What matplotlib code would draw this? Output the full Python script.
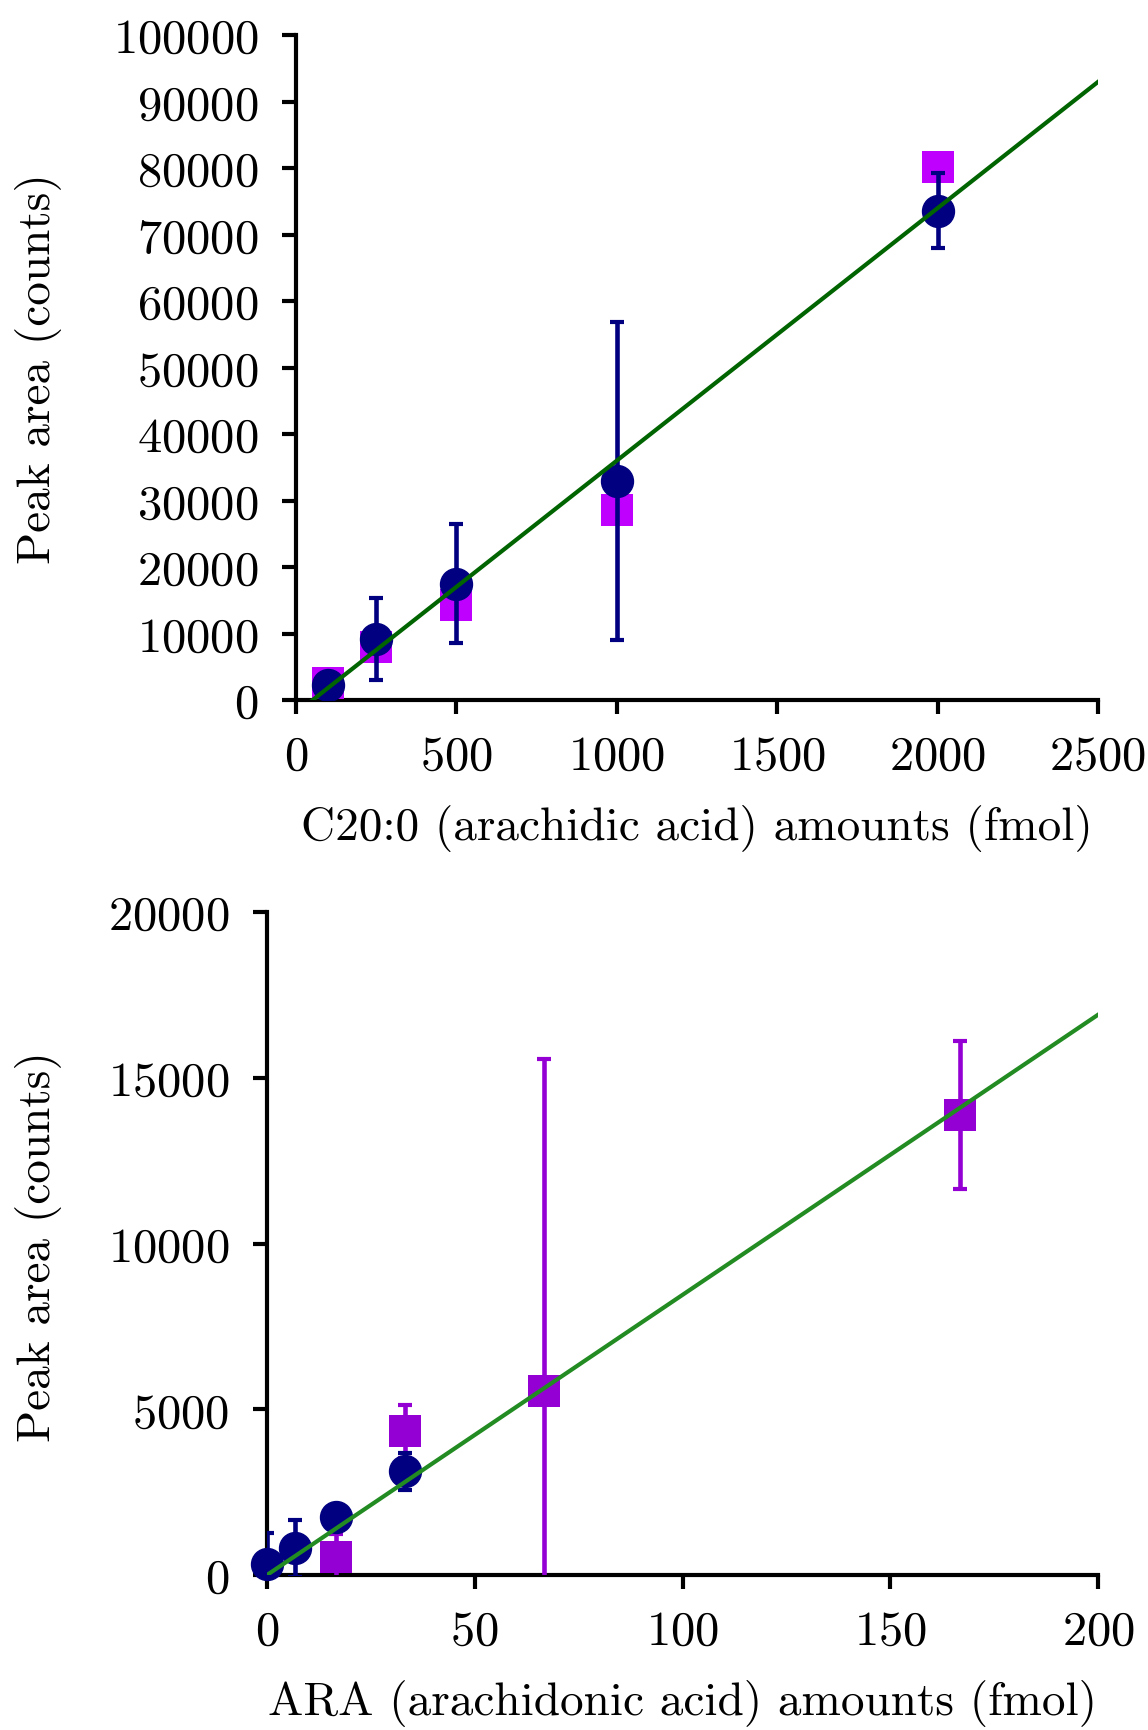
import matplotlib
matplotlib.use("Agg")
import matplotlib.pyplot as plt
import numpy as np

plt.rcParams["font.family"] = ["cmr10", "DejaVu Serif"]
plt.rcParams["mathtext.fontset"] = "cm"
plt.rcParams["axes.formatter.use_mathtext"] = True

# C20:0 (arachidic acid) calibration
c20_amounts = [100, 250, 500, 1000, 2000]
c20_circle = [2200, 9200, 17500, 32900, 73600]
c20_circle_err = [500, 6150, 8900, 23900, 5600]
c20_square = [2500, 8000, 14300, 28600, 80200]
c20_fit_slope = 37.97
c20_fit_intercept = -1975

# ARA (arachidonic acid) calibration
ara_circle_x = [0, 6.67, 16.67, 33.3]
ara_circle = [330, 800, 1760, 3130]
ara_circle_err = [930, 860, 0, 560]
ara_square_x = [16.67, 33.3, 66.7, 166.7]
ara_square = [530, 4330, 5560, 13880]
ara_square_err = [700, 800, 10000, 2230]
ara_fit_slope = 84.5
ara_fit_intercept = 0

W, H = 1148, 1731
FS = 35
LFS = 34
MS = 23
fig = plt.figure(figsize=(W / 100, H / 100), dpi=100)

def style_axes(ax):
    for s in ("top", "right"):
        ax.spines[s].set_visible(False)
    for s in ("left", "bottom"):
        ax.spines[s].set_linewidth(3)
    ax.tick_params(axis="both", direction="out", length=10, width=3,
                   labelsize=FS)
    ax.tick_params(axis="x", pad=15)
    ax.tick_params(axis="y", pad=17)

ebkw = dict(elinewidth=3.3, capsize=5, capthick=3)

# Top panel
ax1 = fig.add_axes([296 / W, 1 - 701 / H, (1098 - 296) / W, (701 - 36) / H])
style_axes(ax1)
ax1.plot(c20_amounts, c20_square, "s", color="#BF00FF", ms=MS, mew=0,
         zorder=3, clip_on=False)
ax1.errorbar(c20_amounts, c20_circle, yerr=c20_circle_err, fmt="o",
             color="#000080", ms=MS, zorder=4, **ebkw)
xf = np.array([0, 2500])
ax1.plot(xf, c20_fit_slope * xf + c20_fit_intercept, color="#006400",
         lw=3, zorder=5)
ax1.set_xlim(0, 2500)
ax1.set_ylim(0, 100000)
ax1.set_xticks(np.arange(0, 2501, 500))
ax1.set_yticks(np.arange(0, 100001, 10000))
ax1.set_xlabel("C20:0 (arachidic acid) amounts (fmol)", fontsize=LFS,
               labelpad=18)
ax1.set_ylabel("Peak area (counts)", fontsize=LFS)
ax1.yaxis.set_label_coords(62 / W, 1 - 369 / H, transform=fig.transFigure)

# Bottom panel
ax2 = fig.add_axes([267 / W, 1 - 1576 / H, (1098 - 267) / W, (1576 - 913) / H])
style_axes(ax2)
ax2.errorbar(ara_square_x, ara_square, yerr=ara_square_err, fmt="none",
             ecolor="#9400D3", zorder=3, **ebkw)
ax2.plot(ara_square_x, ara_square, "s", color="#9400D3", ms=MS, mew=0,
         zorder=3)
ci = ax2.errorbar(ara_circle_x, ara_circle, yerr=ara_circle_err, fmt="o",
                  color="#000080", ms=MS, zorder=4, **ebkw)
ci[0].set_clip_on(False)
xf2 = np.array([0, 200])
ax2.plot(xf2, ara_fit_slope * xf2 + ara_fit_intercept, color="#228B22",
         lw=3, zorder=5)
ax2.set_xlim(0, 200)
ax2.set_ylim(0, 20000)
ax2.set_xticks(np.arange(0, 201, 50))
ax2.set_yticks(np.arange(0, 20001, 5000))
ax2.set_xlabel("ARA (arachidonic acid) amounts (fmol)", fontsize=LFS,
               labelpad=18)
ax2.set_ylabel("Peak area (counts)", fontsize=LFS)
ax2.yaxis.set_label_coords(62 / W, 1 - 1247 / H, transform=fig.transFigure)

fig.savefig("out.png", dpi=100)
